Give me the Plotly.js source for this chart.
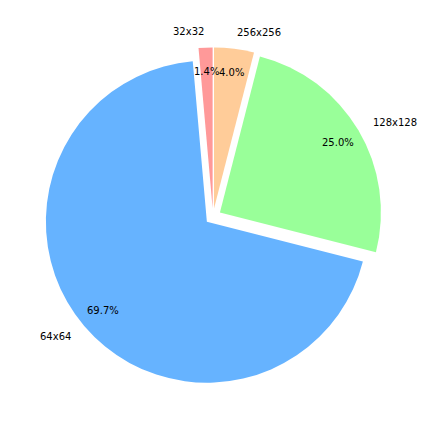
<!DOCTYPE html>
<html>
<head>
<meta charset="utf-8">
<script src="https://cdn.plot.ly/plotly-3.0.1.min.js"></script>
<style>html,body{margin:0;padding:0;background:#fff;}#chart{width:432px;height:432px;}</style>
</head>
<body>
<div id="chart"></div>
<script>
const labels = ['32x32', '64x64', '128x128', '256x256'];
const values = [1.4, 69.7, 25.0, 4.0];
const colors = ['#ff9999', '#66b3ff', '#99ff99', '#ffcc99'];
const pulls = [0.05, 0.05, 0.05, 0.05];

const W = 432, H = 432;
const cx = 213, cy = 216.5, R = 161;
const maxPull = Math.max(...pulls);
const half = R * (1 + maxPull);

const total = values.reduce((a, b) => a + b, 0);
const annotations = [];
let cum = 0;
values.forEach((v, i) => {
  const frac = v / total;
  const mid = (90 + 360 * (cum + frac / 2)) * Math.PI / 180;
  cum += frac;
  const dx = Math.cos(mid), dy = Math.sin(mid);
  const sx = cx + pulls[i] * R * dx, sy = cy - pulls[i] * R * dy;
  const lx = sx + 1.1 * R * dx, ly = sy - 1.1 * R * dy;
  const px = sx + 0.85 * R * dx, py = sy - 0.85 * R * dy;
  annotations.push({
    xref: 'paper', yref: 'paper', x: lx / W, y: 1 - ly / H,
    text: labels[i], showarrow: false,
    xanchor: dx > 0 ? 'left' : 'right', yanchor: 'middle',
    font: {family: 'DejaVu Sans', size: 10, color: '#000'}, borderpad: 0
  });
  annotations.push({
    xref: 'paper', yref: 'paper', x: px / W, y: 1 - py / H,
    text: v.toFixed(1) + '%', showarrow: false,
    xanchor: 'center', yanchor: 'middle',
    font: {family: 'DejaVu Sans', size: 10, color: '#000'}, borderpad: 0
  });
});

const firstAngle = 360 * values[0] / total;

const trace = {
  type: 'pie',
  labels: labels,
  values: values,
  marker: {colors: colors, line: {width: 0}},
  pull: pulls,
  sort: false,
  direction: 'counterclockwise',
  rotation: -firstAngle,
  textinfo: 'none',
  hoverinfo: 'label+percent',
  domain: {
    x: [(cx - half) / W, (cx + half) / W],
    y: [1 - (cy + half) / H, 1 - (cy - half) / H]
  }
};

const layout = {
  width: W, height: H,
  margin: {l: 0, r: 0, t: 0, b: 0},
  paper_bgcolor: '#ffffff',
  showlegend: false,
  annotations: annotations
};

Plotly.newPlot('chart', [trace], layout, {displayModeBar: false, staticPlot: true});
</script>
</body>
</html>
